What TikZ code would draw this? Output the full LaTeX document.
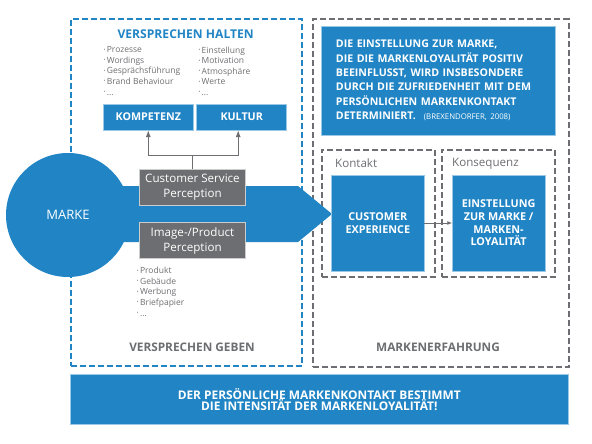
\documentclass[tikz,border=0pt]{standalone}
\usepackage{fontspec}
\setmainfont{Open Sans}
\usepackage{tikz}
\usetikzlibrary{shapes,arrows.meta,positioning,fit,backgrounds}
\definecolor{mblue}{RGB}{33, 133, 197}
\definecolor{mgray}{RGB}{109, 110, 113}
\newcommand{\lbul}{\raisebox{0.35ex}{\scalebox{0.55}{\textbullet}}\,}
\tikzstyle{bluebox} = [rectangle, fill=mblue, draw=mblue!45, line width=0.6pt, text=white, align=center, font=\bfseries\fontsize{10.8}{12.7}\selectfont, inner sep=0pt, outer sep=0pt]
\tikzstyle{graybox} = [rectangle, fill=mgray, draw=mgray!35, line width=0.8pt, text=white, align=center, font=\fontsize{11.6}{15}\selectfont, minimum width=106.4pt, minimum height=36pt, inner sep=0pt, outer sep=0pt]
\tikzstyle{dashbox} = [rectangle, line width=2pt, dash pattern=on 6pt off 3pt, inner sep=0pt, outer sep=0pt]
\tikzstyle{bullets} = [anchor=north west, align=left, text=mgray, font=\fontsize{8.5}{10.6}\selectfont, inner sep=0pt]
\tikzstyle{heading} = [font=\bfseries\fontsize{11.8}{13}\selectfont, text=mgray, inner sep=0pt]
\tikzstyle{label} = [anchor=north west, font=\fontsize{11.6}{13}\selectfont, text=mgray, inner sep=0pt]
\tikzstyle{tedge}  = [draw=mgray, line width=1.2pt, >={Latex[length=7pt,width=5pt]}, ->]

\begin{document}
\begin{tikzpicture}[x=1pt, y=-1pt]
\useasboundingbox (0,0) rectangle (592,444);

% frames =============================
\node[dashbox, draw=mblue, minimum width=231pt, minimum height=347pt] (halten) at (186.2,192.5) {};
\node[dashbox, draw=mgray, minimum width=256pt, minimum height=347.5pt] (erfahrung) at (440.6,192.8) {};
\node[dashbox, draw=mgray, minimum width=113.3pt, minimum height=127pt] (kontakt) at (378.3,213.5) {};
\node[dashbox, draw=mgray, minimum width=113.3pt, minimum height=127pt, right=6.7pt of kontakt] (konsequenz) {};

% marke and arrow
\coordinate (tip) at (332,214);
\fill[mblue] (68,186) -- (298,186) -- (tip) -- (298,242) -- (68,242) -- cycle;
\node[circle, fill=mblue, minimum size=124pt, inner sep=0pt, text=white, font=\fontsize{13}{15}\selectfont] (marke) at (68,215) {MARKE};

% versprechen halten
\node[heading, text=mblue, font=\bfseries\fontsize{12.1}{13}\selectfont] (haltentitle) at (185.7,34) {VERSPRECHEN HALTEN};
\node[bullets] (listkomp) at (103.5,46.5) {\lbul Prozesse\\\lbul Wordings\\\lbul Gesprächsführung\\\lbul Brand Behaviour\\\lbul ...};
\node[bullets] (listkult) at (198.3,46.5) {\lbul Einstellung\\\lbul Motivation\\\lbul Atmosphäre\\\lbul Werte\\\lbul ...};
\node[bluebox, minimum width=90pt, minimum height=26pt, font=\bfseries\fontsize{10.7}{13}\selectfont] (kompetenz) at (148.3,117) {KOMPETENZ};
\node[bluebox, minimum width=90pt, minimum height=26pt, font=\bfseries\fontsize{10.7}{13}\selectfont, right=3.4pt of kompetenz] (kultur) {KULTUR};

% perception
\node[graybox] (csp) at (192.5,187.2) {Customer Service\\Perception};
\node[graybox, below=17.5pt of csp] (ipp) {Image-/Product\\Perception};
\node[bullets] (listimage) at (136.7,267) {\lbul Produkt\\\lbul Gebäude\\\lbul Werbung\\\lbul Briefpapier\\\lbul ...};
\node[heading] (geben) at (192,347.7) {VERSPRECHEN GEBEN};

% markenerfahrung
\node[bluebox, minimum width=233.3pt, minimum height=109pt, text width=204.7pt, align=left, font=\bfseries\fontsize{10.6}{14.4}\selectfont] (zitat) at (438.3,80.5) {DIE EINSTELLUNG ZUR MARKE,\\DIE DIE MARKENLOYALITÄT POSITIV\\BEEINFLUSST, WIRD INSBESONDERE\\DURCH DIE ZUFRIEDENHEIT MIT DEM\\PERSÖNLICHEN MARKENKONTAKT\\DETERMINIERT.\hspace{8pt}{\mdseries\fontsize{7.8}{8}\selectfont(BREXENDORFER, 2008)}};
\node[label] (kontaktlabel) at (335,158.5) {Kontakt};
\node[label] (konsequenzlabel) at (452,158.5) {Konsequenz};
\node[bluebox, minimum width=92.3pt, minimum height=96pt] (ce) at (377.8,223) {CUSTOMER\\EXPERIENCE};
\node[bluebox, minimum width=92.7pt, minimum height=96pt, right=28.3pt of ce] (es) {EINSTELLUNG\\ZUR MARKE /\\MARKEN-\\LOYALITÄT};
\node[heading] (markenerfahrung) at (438,347.7) {MARKENERFAHRUNG};

% fazit
\node[bluebox, minimum width=498.7pt, minimum height=50pt, font=\bfseries\fontsize{11.9}{11.3}\selectfont] (fazit) at (319.3,399.3) {DER PERSÖNLICHE MARKENKONTAKT BESTIMMT\\DIE INTENSITÄT DER MARKENLOYALITÄT!};

%edges
\path[tedge] (csp.north) -- ++(0,-14) -| (kompetenz.south);
\path[tedge] (csp.north) -- ++(0,-14) -| ([xshift=-3.5pt]kultur.south);
\path[tedge, line width=0.8pt, >={Latex[length=5pt,width=4pt]}] (ce) -- (es);

\end{tikzpicture}
\end{document}
